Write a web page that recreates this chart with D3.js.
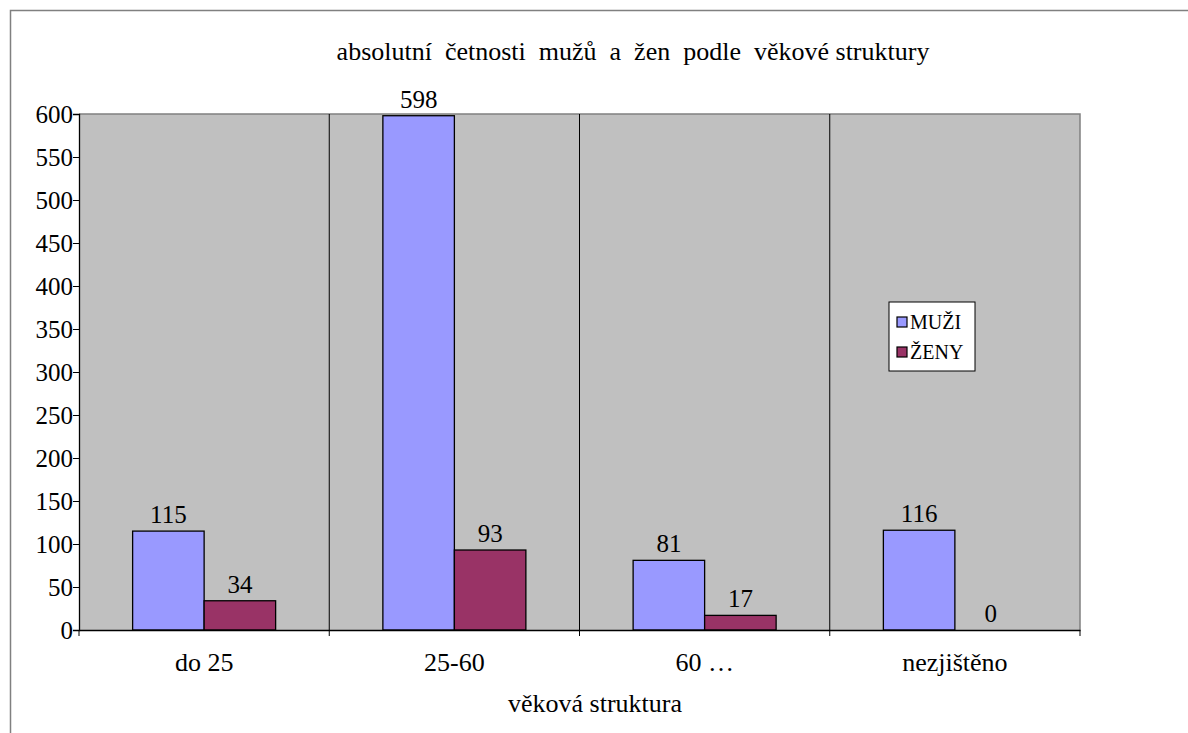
<!DOCTYPE html>
<html><head><meta charset="utf-8">
<script src="https://cdn.jsdelivr.net/npm/d3@7"></script>
<style>
body{margin:0;background:#fff}
svg text{font-family:'Liberation Serif','Times New Roman',Tinos,serif !important;}
</style>
</head><body><svg id="c" width="1188" height="733" style="font-family:'Liberation Serif'"></svg>
<script>
const categories = ["do 25", "25-60", "60 …", "nezjištěno"];
const seriesNames = ["MUŽI", "ŽENY"];
const muzi = [115, 598, 81, 116];
const zeny = [34, 93, 17, 0];
const yTicks = [0, 50, 100, 150, 200, 250, 300, 350, 400, 450, 500, 550, 600];
const colors = ["#9999FF", "#993366"];
const FF = "'Liberation Serif'";
const FS = 25, FT = 26;

const svg = d3.select("#c");
const L = 79, R = 1080, T = 114, B = 630;
svg.append("path").attr("d", "M1188,10.5H10.5V733").attr("fill","none").attr("stroke","#808080").attr("stroke-width",1.5);

svg.append("rect").attr("x",L).attr("y",T).attr("width",R-L).attr("height",B-T).attr("fill","#C0C0C0");
svg.append("path").attr("d",`M${L},${T}H${R}V${B}`).attr("fill","none").attr("stroke","#808080").attr("stroke-width",1.5);

const x = d3.scaleBand().domain(categories).range([L,R]).paddingInner(0).paddingOuter(0);
const y = d3.scaleLinear().domain([0,600]).range([B,T]);
const inner = d3.scaleBand().domain(seriesNames).range([0,x.bandwidth()]).paddingInner(0).paddingOuter(0.75);

svg.append("g").selectAll("line").data(categories.slice(1)).join("line")
  .attr("x1",d=>x(d)).attr("x2",d=>x(d)).attr("y1",T).attr("y2",B).attr("stroke","#000");

const data = [muzi, zeny];
data.forEach((vals,si)=>{
  const g = svg.append("g");
  g.selectAll("rect").data(vals).join("rect")
    .attr("x",(d,i)=>x(categories[i])+inner(seriesNames[si]))
    .attr("y",d=>y(d)).attr("width",inner.bandwidth()).attr("height",d=>B-y(d))
    .attr("fill",colors[si]).attr("stroke","#000").attr("stroke-width",1.3)
    .attr("display",d=>d===0?"none":null);
  g.selectAll("text").data(vals).join("text")
    .attr("x",(d,i)=>x(categories[i])+inner(seriesNames[si])+inner.bandwidth()/2)
    .attr("y",d=>y(d)-8).attr("text-anchor","middle").attr("font-size",FS).style("font-family",FF).text(d=>d);
});

const ya = svg.append("g").attr("transform",`translate(${L},0)`)
  .call(d3.axisLeft(y).tickValues(yTicks).tickSize(6).tickPadding(0));
ya.attr("font-family",FF).attr("font-size",FS);
ya.select(".domain").attr("stroke","#000").attr("stroke-width",1.3);
ya.selectAll("line").attr("stroke","#000");
ya.selectAll("text").attr("font-size",FS).style("font-family",FF).attr("fill","#000");

const xa = svg.append("g").attr("transform",`translate(0,${B})`)
  .call(d3.axisBottom(x).tickSize(0).tickPadding(23));
xa.attr("font-family",FF).attr("font-size",FT);
xa.select(".domain").attr("stroke","#000").attr("stroke-width",1.3);
xa.selectAll("text").attr("font-size",FT).style("font-family",FF).attr("fill","#000");
svg.append("g").selectAll("line").data(categories.map(c=>x(c)).concat([R])).join("line")
  .attr("x1",d=>d).attr("x2",d=>d).attr("y1",B).attr("y2",B+6).attr("stroke","#000");

svg.append("text").attr("x",633).attr("y",60).attr("text-anchor","middle").attr("font-size",FT).style("font-family",FF)
  .attr("xml:space","preserve").style("white-space","pre").text("absolutní  četnosti  mužů  a  žen  podle  věkové struktury");
svg.append("text").attr("x",595).attr("y",712).attr("text-anchor","middle").attr("font-size",FT).style("font-family",FF).text("věková struktura");

const lg = svg.append("g").attr("transform","translate(889,302)");
lg.append("rect").attr("width",86).attr("height",69).attr("fill","#fff").attr("stroke","#000").attr("stroke-width",1);
seriesNames.forEach((n,i)=>{
  lg.append("rect").attr("x",8).attr("y",15+i*30).attr("width",10).attr("height",10).attr("fill",colors[i]).attr("stroke","#000").attr("stroke-width",1.2);
  lg.append("text").attr("x",21).attr("y",27+i*30).attr("font-size",20).style("font-family",FF).text(n);
});
</script></body></html>
